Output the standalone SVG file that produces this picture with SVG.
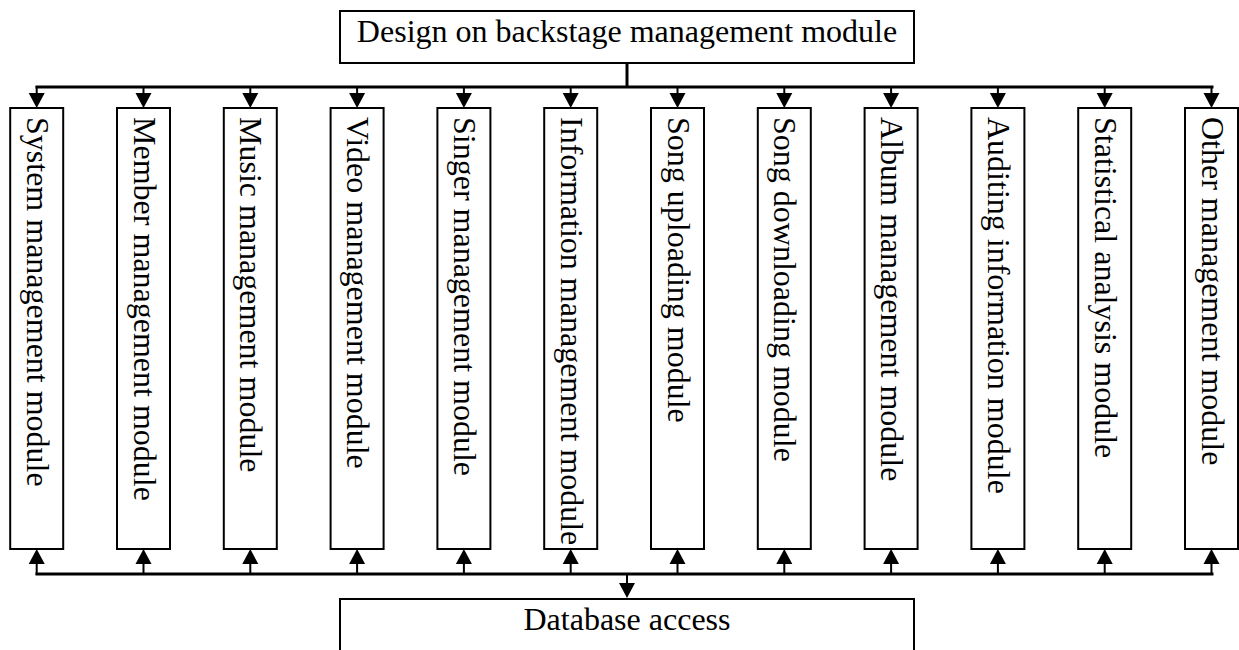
<svg xmlns="http://www.w3.org/2000/svg" width="1239" height="650" viewBox="0 0 1239 650">
<style>
.box{fill:#fff;stroke:#000;stroke-width:2}
.t{font-family:"Liberation Serif","Times New Roman",serif;font-size:32px;fill:#000}
.bus{stroke:#000;stroke-width:3;fill:none}
.stem{stroke:#000;stroke-width:2;fill:none}
.ah{fill:#000}
</style>
<defs>
<path id="down" class="ah" d="M-8,0 L8,0 L0,15 z"/>
<path id="up" class="ah" d="M-8,0 L8,0 L0,-15 z"/>
</defs>
<rect width="1239" height="650" fill="#fff"/>
<g id="connectors">
<line class="bus" x1="627" y1="63" x2="627" y2="87"/>
<line class="bus" x1="35.5" y1="87" x2="1213.5" y2="87"/>
<line class="bus" x1="35.5" y1="574" x2="1213.5" y2="574"/>
<line class="stem" x1="627" y1="574" x2="627" y2="584"/>
<use href="#down" x="627" y="583"/>
<g class="stem">
<path d="M36.7,86V94M143.5,86V94M250.3,86V94M357.1,86V94M463.9,86V94M570.7,86V94M677.5,86V94M784.3,86V94M891.1,86V94M997.9,86V94M1104.7,86V94M1211.5,86V94"/>
<path d="M36.7,575V564M143.5,575V564M250.3,575V564M357.1,575V564M463.9,575V564M570.7,575V564M677.5,575V564M784.3,575V564M891.1,575V564M997.9,575V564M1104.7,575V564M1211.5,575V564"/>
</g>
<use href="#down" x="36.7" y="93"/><use href="#down" x="143.5" y="93"/><use href="#down" x="250.3" y="93"/><use href="#down" x="357.1" y="93"/><use href="#down" x="463.9" y="93"/><use href="#down" x="570.7" y="93"/><use href="#down" x="677.5" y="93"/><use href="#down" x="784.3" y="93"/><use href="#down" x="891.1" y="93"/><use href="#down" x="997.9" y="93"/><use href="#down" x="1104.7" y="93"/><use href="#down" x="1211.5" y="93"/>
<use href="#up" x="36.7" y="564"/><use href="#up" x="143.5" y="564"/><use href="#up" x="250.3" y="564"/><use href="#up" x="357.1" y="564"/><use href="#up" x="463.9" y="564"/><use href="#up" x="570.7" y="564"/><use href="#up" x="677.5" y="564"/><use href="#up" x="784.3" y="564"/><use href="#up" x="891.1" y="564"/><use href="#up" x="997.9" y="564"/><use href="#up" x="1104.7" y="564"/><use href="#up" x="1211.5" y="564"/>
</g>
<g id="top">
<rect class="box" x="340" y="11" width="574" height="52"/>
<text class="t" x="627" y="42" text-anchor="middle">Design on backstage management module</text>
</g>
<g id="db">
<rect class="box" x="340" y="599" width="574" height="70"/>
<text class="t" x="627" y="630" text-anchor="middle">Database access</text>
</g>
<g id="m1"><rect class="box" x="10.2" y="108" width="53" height="441"/><text class="t" transform="translate(26.7,117) rotate(90)">System management module</text></g>
<g id="m2"><rect class="box" x="117" y="108" width="53" height="441"/><text class="t" transform="translate(133.5,117) rotate(90)">Member management module</text></g>
<g id="m3"><rect class="box" x="223.8" y="108" width="53" height="441"/><text class="t" transform="translate(240.3,117) rotate(90)">Music management module</text></g>
<g id="m4"><rect class="box" x="330.6" y="108" width="53" height="441"/><text class="t" transform="translate(347.1,117) rotate(90)">Video management module</text></g>
<g id="m5"><rect class="box" x="437.4" y="108" width="53" height="441"/><text class="t" transform="translate(453.9,117) rotate(90)">Singer management module</text></g>
<g id="m6"><rect class="box" x="544.2" y="108" width="53" height="441"/><text class="t" transform="translate(560.7,117) rotate(90)">Information management module</text></g>
<g id="m7"><rect class="box" x="651" y="108" width="53" height="441"/><text class="t" transform="translate(667.5,117) rotate(90)">Song uploading module</text></g>
<g id="m8"><rect class="box" x="757.8" y="108" width="53" height="441"/><text class="t" transform="translate(774.3,117) rotate(90)">Song downloading module</text></g>
<g id="m9"><rect class="box" x="864.6" y="108" width="53" height="441"/><text class="t" transform="translate(881.1,117) rotate(90)">Album management module</text></g>
<g id="m10"><rect class="box" x="971.4" y="108" width="53" height="441"/><text class="t" transform="translate(987.9,117) rotate(90)">Auditing information module</text></g>
<g id="m11"><rect class="box" x="1078.2" y="108" width="53" height="441"/><text class="t" transform="translate(1094.7,117) rotate(90)">Statistical analysis module</text></g>
<g id="m12"><rect class="box" x="1185" y="108" width="53" height="441"/><text class="t" transform="translate(1201.5,117) rotate(90)">Other management module</text></g>
</svg>
